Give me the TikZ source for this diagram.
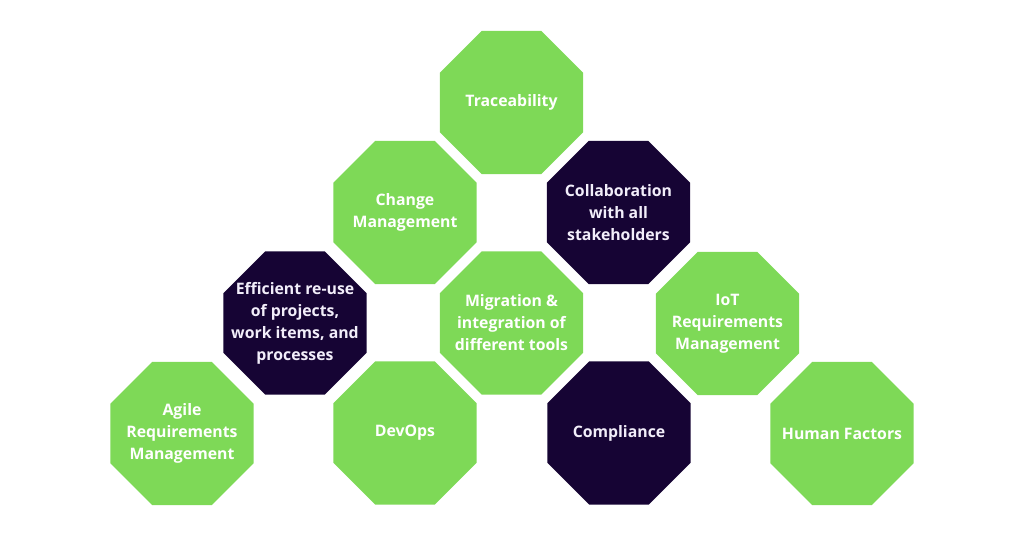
\documentclass[tikz,border=0pt]{standalone}
\usepackage{fontspec}
\setmainfont{Open Sans}
\usetikzlibrary{shapes.geometric}

\definecolor{octgreen}{RGB}{126,217,87}
\definecolor{octdark}{RGB}{22,4,52}
\definecolor{octlight}{RGB}{242,238,250}

\begin{document}
\begin{tikzpicture}[x=0.2mm, y=-0.2mm,
    oct/.style={regular polygon, regular polygon sides=8, minimum size=3.106cm, inner sep=0pt},
    octtext/.style={align=center, inner sep=0pt, font=\fontsize{9}{12.5}\selectfont\bfseries},
    greenoct/.style={oct, fill=octgreen, label={[octtext, text=white]center:#1}},
    darkoct/.style={oct, fill=octdark, label={[octtext, text=octlight]center:#1}}]
  \useasboundingbox (0,0) rectangle (1024,536);

  \node[greenoct={Traceability}] (trace) at (511.5,102.5) {};

  \node[greenoct={Change\\Management}] (change) at (405,212.5) {};
  \node[darkoct={Collaboration\\with all\\stakeholders}] (collab) at (618.5,212.5) {};

  \node[darkoct={Efficient re-use\\of projects,\\work items, and\\processes}] (reuse) at (295,323) {};
  \node[greenoct={Migration \&\\integration of\\different tools}] (migrate) at (511.5,323) {};
  \node[greenoct={IoT\\Requirements\\Management}] (iot) at (727.5,323.5) {};

  \node[greenoct={Agile\\Requirements\\Management}] (agile) at (182,433.5) {};
  \node[greenoct={DevOps}] (devops) at (405,433) {};
  \node[darkoct={Compliance}] (comply) at (619,433) {};
  \node[greenoct={Human Factors}] (human) at (842,433.5) {};
\end{tikzpicture}
\end{document}
